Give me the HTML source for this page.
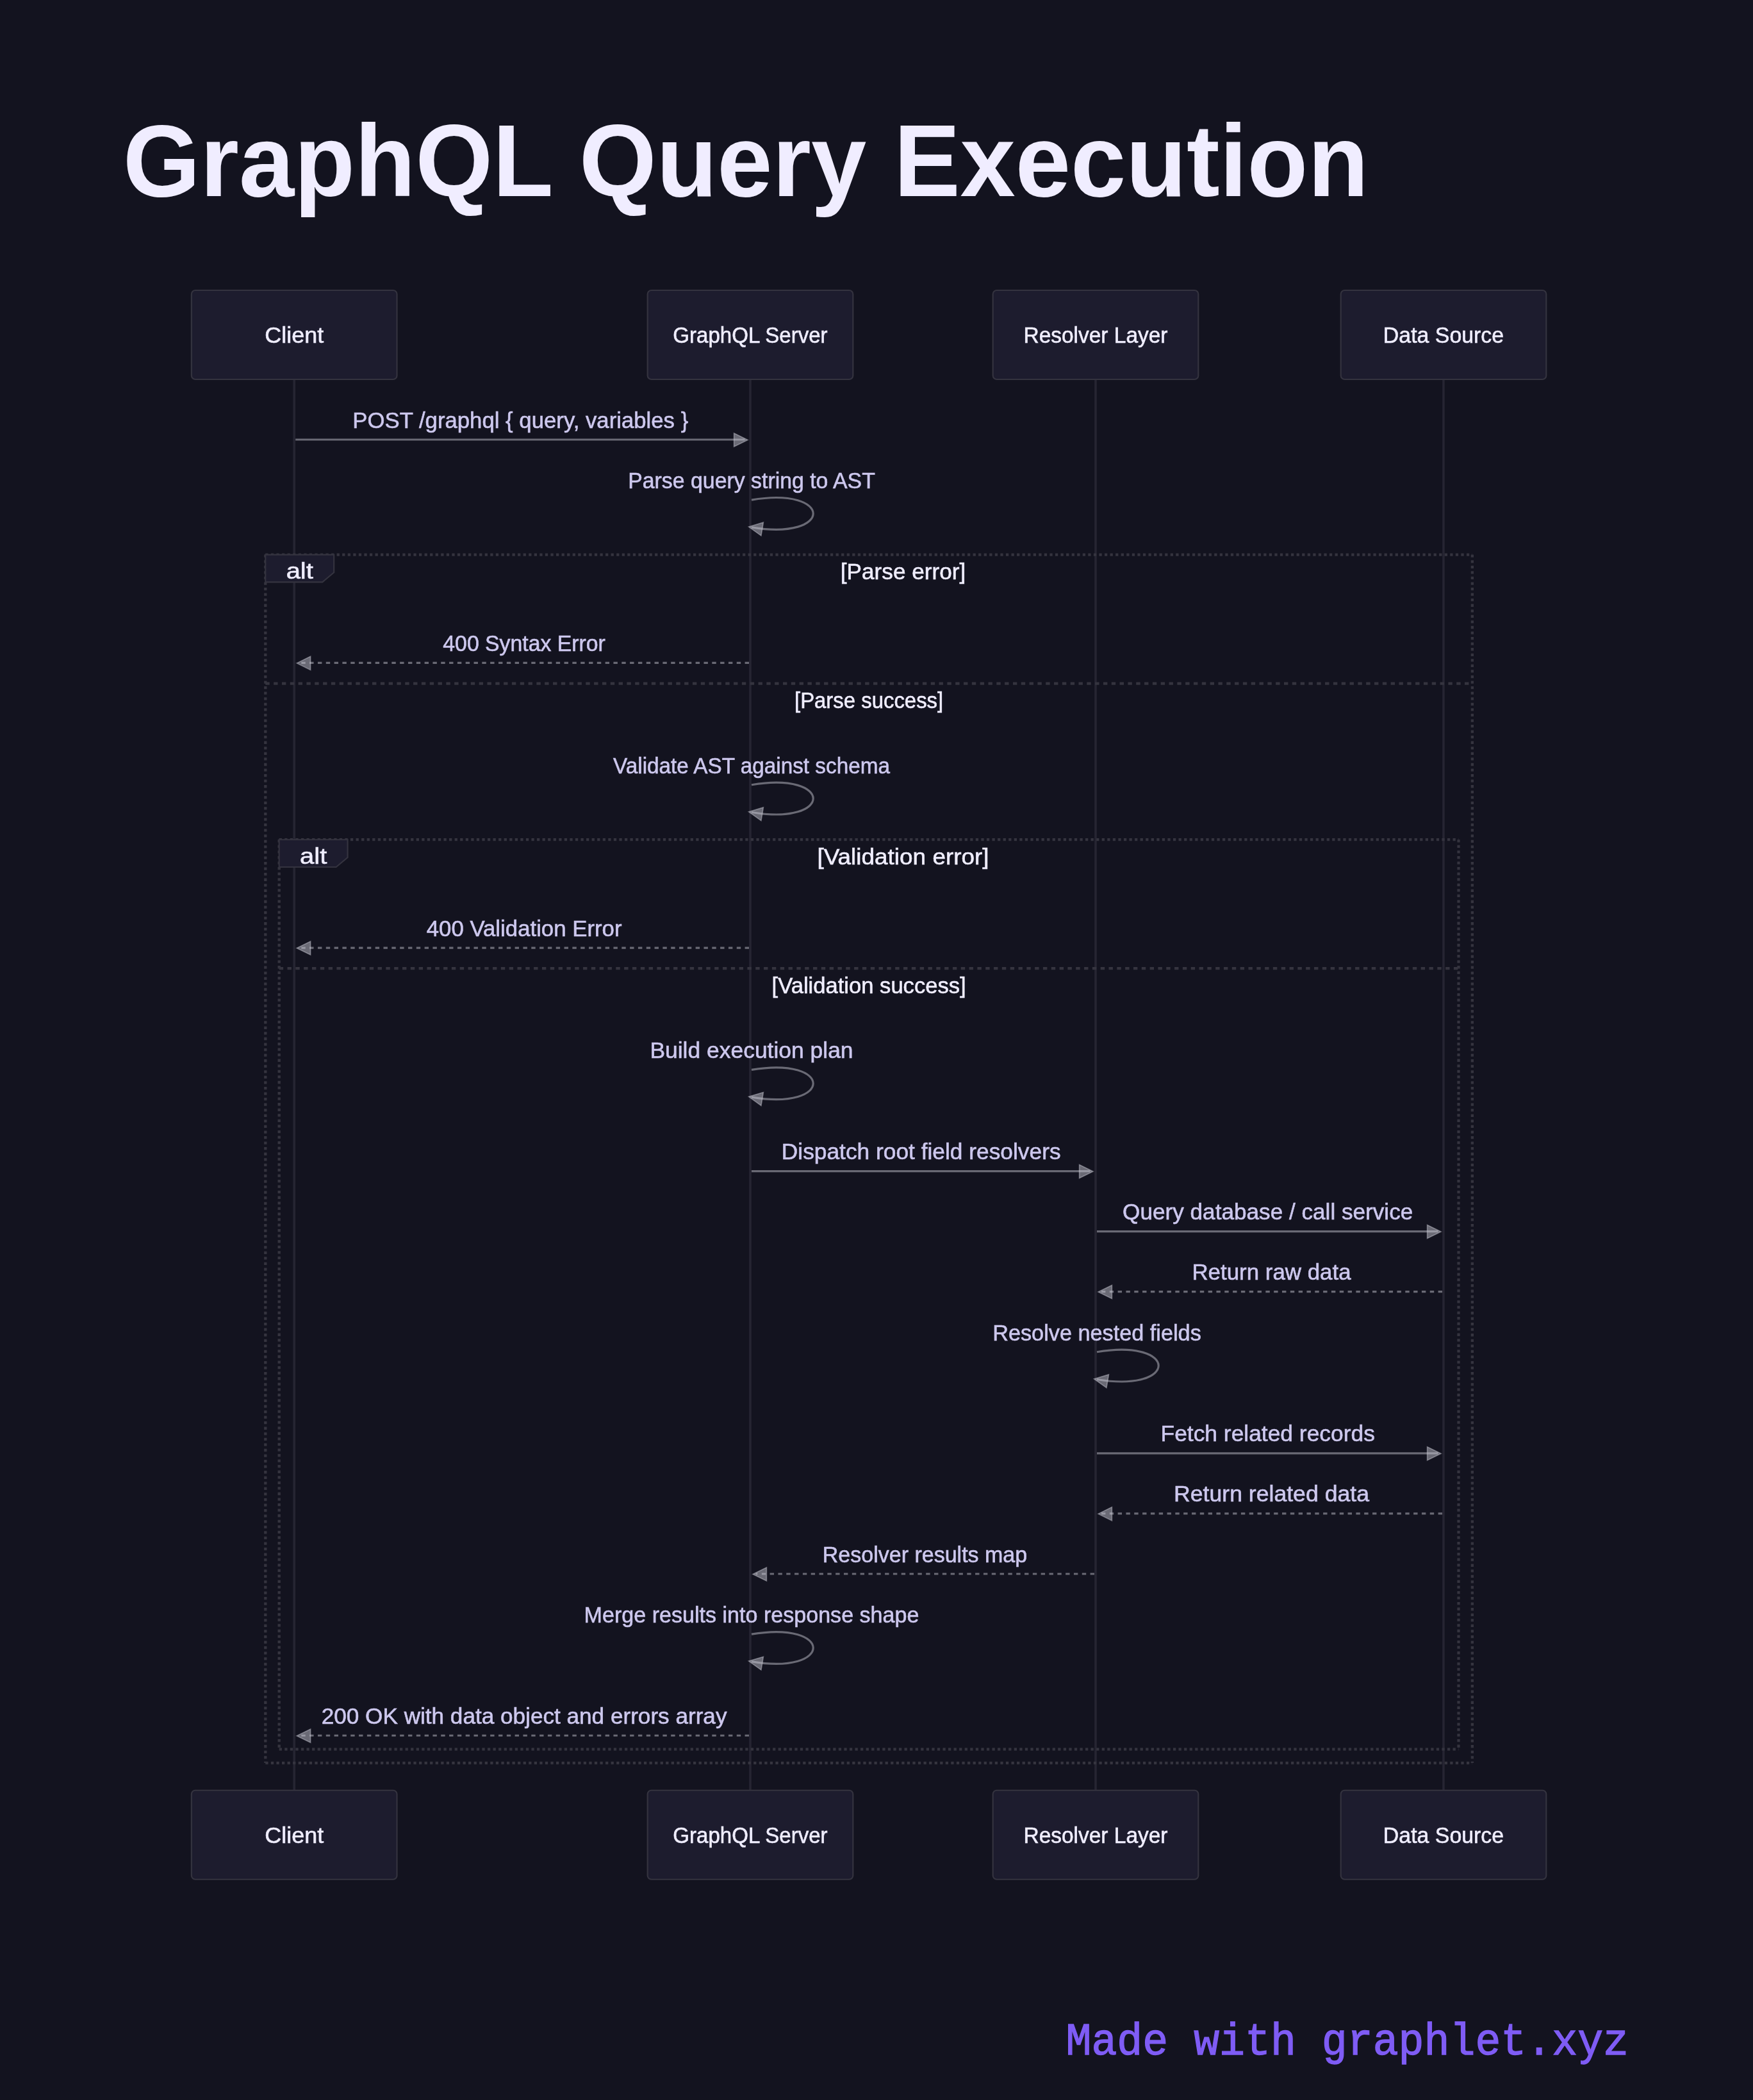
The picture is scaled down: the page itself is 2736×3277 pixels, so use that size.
<!DOCTYPE html><html><head><meta charset="utf-8"><title>GraphQL Query Execution</title>
<style>html,body{margin:0;padding:0;background:#13131f;width:2736px;height:3277px;overflow:hidden}svg{display:block}text{font-family:"Liberation Sans",sans-serif}.t text{font-size:35px;text-anchor:middle;stroke-width:0.60}</style></head><body>
<svg width="2736" height="3277" viewBox="0 0 2736 3277">
<rect x="0" y="0" width="2736" height="3277" fill="#13131f"/>
<line x1="459.20" y1="591.95" x2="459.20" y2="2793.78" stroke="#262532" stroke-width="3.6"/>
<line x1="1171.00" y1="591.95" x2="1171.00" y2="2793.78" stroke="#262532" stroke-width="3.6"/>
<line x1="1710.00" y1="591.95" x2="1710.00" y2="2793.78" stroke="#262532" stroke-width="3.6"/>
<line x1="2253.00" y1="591.95" x2="2253.00" y2="2793.78" stroke="#262532" stroke-width="3.6"/>
<rect x="298.87" y="453.00" width="320.66" height="138.95" rx="6" ry="6" fill="#1d1c2e" stroke="#34333f" stroke-width="2.14"/>
<rect x="1010.67" y="453.00" width="320.66" height="138.95" rx="6" ry="6" fill="#1d1c2e" stroke="#34333f" stroke-width="2.14"/>
<rect x="1549.67" y="453.00" width="320.66" height="138.95" rx="6" ry="6" fill="#1d1c2e" stroke="#34333f" stroke-width="2.14"/>
<rect x="2092.67" y="453.00" width="320.66" height="138.95" rx="6" ry="6" fill="#1d1c2e" stroke="#34333f" stroke-width="2.14"/>
<line x1="461.20" y1="686.01" x2="1162.50" y2="686.01" stroke="rgba(205,205,215,0.47)" stroke-width="3.2"/>
<polygon points="1167.00,686.41 1145.60,696.91 1145.60,675.91" fill="rgba(205,205,215,0.47)" stroke="rgba(205,205,215,0.47)" stroke-width="1.6" stroke-linejoin="miter"/>
<path d="M 1173.00,780.07 C 1301.26,758.69 1301.26,844.20 1173.00,822.82" fill="none" stroke="rgba(205,205,215,0.47)" stroke-width="3.2"/>
<polygon points="1168.56,822.08 1191.40,815.24 1187.94,835.96" fill="rgba(205,205,215,0.47)" stroke="rgba(205,205,215,0.47)" stroke-width="1.6" stroke-linejoin="miter"/>
<line x1="1169.00" y1="1034.45" x2="467.70" y2="1034.45" stroke="rgba(205,205,215,0.47)" stroke-width="3.2" stroke-dasharray="6.41 6.41"/>
<polygon points="463.20,1034.85 484.60,1024.35 484.60,1045.35" fill="rgba(205,205,215,0.47)" stroke="rgba(205,205,215,0.47)" stroke-width="1.6" stroke-linejoin="miter"/>
<path d="M 1173.00,1224.71 C 1301.26,1203.33 1301.26,1288.84 1173.00,1267.46" fill="none" stroke="rgba(205,205,215,0.47)" stroke-width="3.2"/>
<polygon points="1168.56,1266.72 1191.40,1259.88 1187.94,1280.60" fill="rgba(205,205,215,0.47)" stroke="rgba(205,205,215,0.47)" stroke-width="1.6" stroke-linejoin="miter"/>
<line x1="1169.00" y1="1479.10" x2="467.70" y2="1479.10" stroke="rgba(205,205,215,0.47)" stroke-width="3.2" stroke-dasharray="6.41 6.41"/>
<polygon points="463.20,1479.50 484.60,1469.00 484.60,1490.00" fill="rgba(205,205,215,0.47)" stroke="rgba(205,205,215,0.47)" stroke-width="1.6" stroke-linejoin="miter"/>
<path d="M 1173.00,1669.35 C 1301.26,1647.97 1301.26,1733.48 1173.00,1712.11" fill="none" stroke="rgba(205,205,215,0.47)" stroke-width="3.2"/>
<polygon points="1168.56,1711.37 1191.40,1704.53 1187.94,1725.24" fill="rgba(205,205,215,0.47)" stroke="rgba(205,205,215,0.47)" stroke-width="1.6" stroke-linejoin="miter"/>
<line x1="1173.00" y1="1827.54" x2="1701.50" y2="1827.54" stroke="rgba(205,205,215,0.47)" stroke-width="3.2"/>
<polygon points="1706.00,1827.94 1684.60,1838.44 1684.60,1817.44" fill="rgba(205,205,215,0.47)" stroke="rgba(205,205,215,0.47)" stroke-width="1.6" stroke-linejoin="miter"/>
<line x1="1712.00" y1="1921.60" x2="2244.50" y2="1921.60" stroke="rgba(205,205,215,0.47)" stroke-width="3.2"/>
<polygon points="2249.00,1922.00 2227.60,1932.50 2227.60,1911.50" fill="rgba(205,205,215,0.47)" stroke="rgba(205,205,215,0.47)" stroke-width="1.6" stroke-linejoin="miter"/>
<line x1="2251.00" y1="2015.66" x2="1718.50" y2="2015.66" stroke="rgba(205,205,215,0.47)" stroke-width="3.2" stroke-dasharray="6.41 6.41"/>
<polygon points="1714.00,2016.06 1735.40,2005.56 1735.40,2026.56" fill="rgba(205,205,215,0.47)" stroke="rgba(205,205,215,0.47)" stroke-width="1.6" stroke-linejoin="miter"/>
<path d="M 1712.00,2109.72 C 1840.26,2088.34 1840.26,2173.85 1712.00,2152.47" fill="none" stroke="rgba(205,205,215,0.47)" stroke-width="3.2"/>
<polygon points="1707.56,2151.73 1730.40,2144.89 1726.94,2165.61" fill="rgba(205,205,215,0.47)" stroke="rgba(205,205,215,0.47)" stroke-width="1.6" stroke-linejoin="miter"/>
<line x1="1712.00" y1="2267.91" x2="2244.50" y2="2267.91" stroke="rgba(205,205,215,0.47)" stroke-width="3.2"/>
<polygon points="2249.00,2268.31 2227.60,2278.81 2227.60,2257.81" fill="rgba(205,205,215,0.47)" stroke="rgba(205,205,215,0.47)" stroke-width="1.6" stroke-linejoin="miter"/>
<line x1="2251.00" y1="2361.97" x2="1718.50" y2="2361.97" stroke="rgba(205,205,215,0.47)" stroke-width="3.2" stroke-dasharray="6.41 6.41"/>
<polygon points="1714.00,2362.37 1735.40,2351.87 1735.40,2372.87" fill="rgba(205,205,215,0.47)" stroke="rgba(205,205,215,0.47)" stroke-width="1.6" stroke-linejoin="miter"/>
<line x1="1708.00" y1="2456.02" x2="1179.50" y2="2456.02" stroke="rgba(205,205,215,0.47)" stroke-width="3.2" stroke-dasharray="6.41 6.41"/>
<polygon points="1175.00,2456.42 1196.40,2445.92 1196.40,2466.92" fill="rgba(205,205,215,0.47)" stroke="rgba(205,205,215,0.47)" stroke-width="1.6" stroke-linejoin="miter"/>
<path d="M 1173.00,2550.08 C 1301.26,2528.71 1301.26,2614.21 1173.00,2592.84" fill="none" stroke="rgba(205,205,215,0.47)" stroke-width="3.2"/>
<polygon points="1168.56,2592.10 1191.40,2585.26 1187.94,2605.97" fill="rgba(205,205,215,0.47)" stroke="rgba(205,205,215,0.47)" stroke-width="1.6" stroke-linejoin="miter"/>
<line x1="1169.00" y1="2708.27" x2="467.70" y2="2708.27" stroke="rgba(205,205,215,0.47)" stroke-width="3.2" stroke-dasharray="6.41 6.41"/>
<polygon points="463.20,2708.67 484.60,2698.17 484.60,2719.17" fill="rgba(205,205,215,0.47)" stroke="rgba(205,205,215,0.47)" stroke-width="1.6" stroke-linejoin="miter"/>
<line x1="435.69" y1="1310.22" x2="2276.51" y2="1310.22" stroke="#35343f" stroke-width="4.28" stroke-dasharray="4.28 4.28"/>
<line x1="2276.51" y1="1310.22" x2="2276.51" y2="2729.65" stroke="#35343f" stroke-width="4.28" stroke-dasharray="4.28 4.28"/>
<line x1="435.69" y1="2729.65" x2="2276.51" y2="2729.65" stroke="#35343f" stroke-width="4.28" stroke-dasharray="4.28 4.28"/>
<line x1="435.69" y1="1310.22" x2="435.69" y2="2729.65" stroke="#35343f" stroke-width="4.28" stroke-dasharray="4.28 4.28"/>
<line x1="435.69" y1="1511.16" x2="2276.51" y2="1511.16" stroke="#35343f" stroke-width="4.28" stroke-dasharray="6.41 6.41"/>
<polygon points="435.69,1310.22 542.57,1310.22 542.57,1338.01 524.61,1352.97 435.69,1352.97" fill="#1d1c2e" stroke="#34333f" stroke-width="2.14"/>
<line x1="414.31" y1="865.58" x2="2297.89" y2="865.58" stroke="#35343f" stroke-width="4.28" stroke-dasharray="4.28 4.28"/>
<line x1="2297.89" y1="865.58" x2="2297.89" y2="2751.03" stroke="#35343f" stroke-width="4.28" stroke-dasharray="4.28 4.28"/>
<line x1="414.31" y1="2751.03" x2="2297.89" y2="2751.03" stroke="#35343f" stroke-width="4.28" stroke-dasharray="4.28 4.28"/>
<line x1="414.31" y1="865.58" x2="414.31" y2="2751.03" stroke="#35343f" stroke-width="4.28" stroke-dasharray="4.28 4.28"/>
<line x1="414.31" y1="1066.52" x2="2297.89" y2="1066.52" stroke="#35343f" stroke-width="4.28" stroke-dasharray="6.41 6.41"/>
<polygon points="414.31,865.58 521.19,865.58 521.19,893.37 503.24,908.33 414.31,908.33" fill="#1d1c2e" stroke="#34333f" stroke-width="2.14"/>
<rect x="298.87" y="2793.78" width="320.66" height="138.95" rx="6" ry="6" fill="#1d1c2e" stroke="#34333f" stroke-width="2.14"/>
<rect x="1010.67" y="2793.78" width="320.66" height="138.95" rx="6" ry="6" fill="#1d1c2e" stroke="#34333f" stroke-width="2.14"/>
<rect x="1549.67" y="2793.78" width="320.66" height="138.95" rx="6" ry="6" fill="#1d1c2e" stroke="#34333f" stroke-width="2.14"/>
<rect x="2092.67" y="2793.78" width="320.66" height="138.95" rx="6" ry="6" fill="#1d1c2e" stroke="#34333f" stroke-width="2.14"/>
<g class="t" style="will-change:transform">
<text x="459.20" y="535.00" fill="#f0eeff" stroke="#f0eeff" textLength="91.97" lengthAdjust="spacingAndGlyphs">Client</text>
<text x="1171.00" y="535.00" fill="#f0eeff" stroke="#f0eeff" textLength="241.29" lengthAdjust="spacingAndGlyphs">GraphQL Server</text>
<text x="1710.00" y="535.00" fill="#f0eeff" stroke="#f0eeff" textLength="225.01" lengthAdjust="spacingAndGlyphs">Resolver Layer</text>
<text x="2253.00" y="535.00" fill="#f0eeff" stroke="#f0eeff" textLength="188.35" lengthAdjust="spacingAndGlyphs">Data Source</text>
<text x="812.30" y="667.51" fill="#cdc8ee" stroke="#cdc8ee" textLength="523.88" lengthAdjust="spacingAndGlyphs">POST /graphql { query, variables }</text>
<text x="1173.00" y="761.87" fill="#cdc8ee" stroke="#cdc8ee" textLength="385.66" lengthAdjust="spacingAndGlyphs">Parse query string to AST</text>
<text x="818.10" y="1015.95" fill="#cdc8ee" stroke="#cdc8ee" textLength="253.57" lengthAdjust="spacingAndGlyphs">400 Syntax Error</text>
<text x="1173.00" y="1206.51" fill="#cdc8ee" stroke="#cdc8ee" textLength="431.95" lengthAdjust="spacingAndGlyphs">Validate AST against schema</text>
<text x="818.10" y="1460.60" fill="#cdc8ee" stroke="#cdc8ee" textLength="304.77" lengthAdjust="spacingAndGlyphs">400 Validation Error</text>
<text x="1173.00" y="1651.15" fill="#cdc8ee" stroke="#cdc8ee" textLength="317.18" lengthAdjust="spacingAndGlyphs">Build execution plan</text>
<text x="1437.70" y="1809.04" fill="#cdc8ee" stroke="#cdc8ee" textLength="435.72" lengthAdjust="spacingAndGlyphs">Dispatch root field resolvers</text>
<text x="1978.70" y="1903.10" fill="#cdc8ee" stroke="#cdc8ee" textLength="453.16" lengthAdjust="spacingAndGlyphs">Query database / call service</text>
<text x="1984.50" y="1997.16" fill="#cdc8ee" stroke="#cdc8ee" textLength="248.22" lengthAdjust="spacingAndGlyphs">Return raw data</text>
<text x="1712.00" y="2091.52" fill="#cdc8ee" stroke="#cdc8ee" textLength="325.62" lengthAdjust="spacingAndGlyphs">Resolve nested fields</text>
<text x="1978.70" y="2249.41" fill="#cdc8ee" stroke="#cdc8ee" textLength="334.27" lengthAdjust="spacingAndGlyphs">Fetch related records</text>
<text x="1984.50" y="2343.47" fill="#cdc8ee" stroke="#cdc8ee" textLength="304.92" lengthAdjust="spacingAndGlyphs">Return related data</text>
<text x="1443.50" y="2437.52" fill="#cdc8ee" stroke="#cdc8ee" textLength="319.42" lengthAdjust="spacingAndGlyphs">Resolver results map</text>
<text x="1173.00" y="2531.88" fill="#cdc8ee" stroke="#cdc8ee" textLength="522.87" lengthAdjust="spacingAndGlyphs">Merge results into response shape</text>
<text x="818.10" y="2689.77" fill="#cdc8ee" stroke="#cdc8ee" textLength="632.75" lengthAdjust="spacingAndGlyphs">200 OK with data object and errors array</text>
<text x="489.13" y="1347.62" fill="#f0eeff" stroke="#f0eeff" textLength="42.25" lengthAdjust="spacingAndGlyphs">alt</text>
<text x="1409.54" y="1348.82" fill="#f0eeff" stroke="#f0eeff" textLength="268.22" lengthAdjust="spacingAndGlyphs">[Validation error]</text>
<text x="1356.10" y="1550.06" fill="#f0eeff" stroke="#f0eeff" textLength="303.07" lengthAdjust="spacingAndGlyphs">[Validation success]</text>
<text x="467.75" y="902.98" fill="#f0eeff" stroke="#f0eeff" textLength="42.25" lengthAdjust="spacingAndGlyphs">alt</text>
<text x="1409.54" y="904.18" fill="#f0eeff" stroke="#f0eeff" textLength="195.53" lengthAdjust="spacingAndGlyphs">[Parse error]</text>
<text x="1356.10" y="1105.42" fill="#f0eeff" stroke="#f0eeff" textLength="232.21" lengthAdjust="spacingAndGlyphs">[Parse success]</text>
<text x="459.20" y="2875.78" fill="#f0eeff" stroke="#f0eeff" textLength="91.97" lengthAdjust="spacingAndGlyphs">Client</text>
<text x="1171.00" y="2875.78" fill="#f0eeff" stroke="#f0eeff" textLength="241.29" lengthAdjust="spacingAndGlyphs">GraphQL Server</text>
<text x="1710.00" y="2875.78" fill="#f0eeff" stroke="#f0eeff" textLength="225.01" lengthAdjust="spacingAndGlyphs">Resolver Layer</text>
<text x="2253.00" y="2875.78" fill="#f0eeff" stroke="#f0eeff" textLength="188.35" lengthAdjust="spacingAndGlyphs">Data Source</text>
</g>
<g style="will-change:transform">
<text x="192" y="306.3" font-size="160" font-weight="700" fill="#f0edff" textLength="1944" lengthAdjust="spacingAndGlyphs">GraphQL Query Execution</text>
<text x="1663.5" y="3206" style="font-family:'Liberation Mono',monospace" font-size="70" fill="#7f5cf5" stroke="#7f5cf5" stroke-width="1.4" textLength="878.5" lengthAdjust="spacingAndGlyphs">Made with graphlet.xyz</text>
</g>
</svg></body></html>
